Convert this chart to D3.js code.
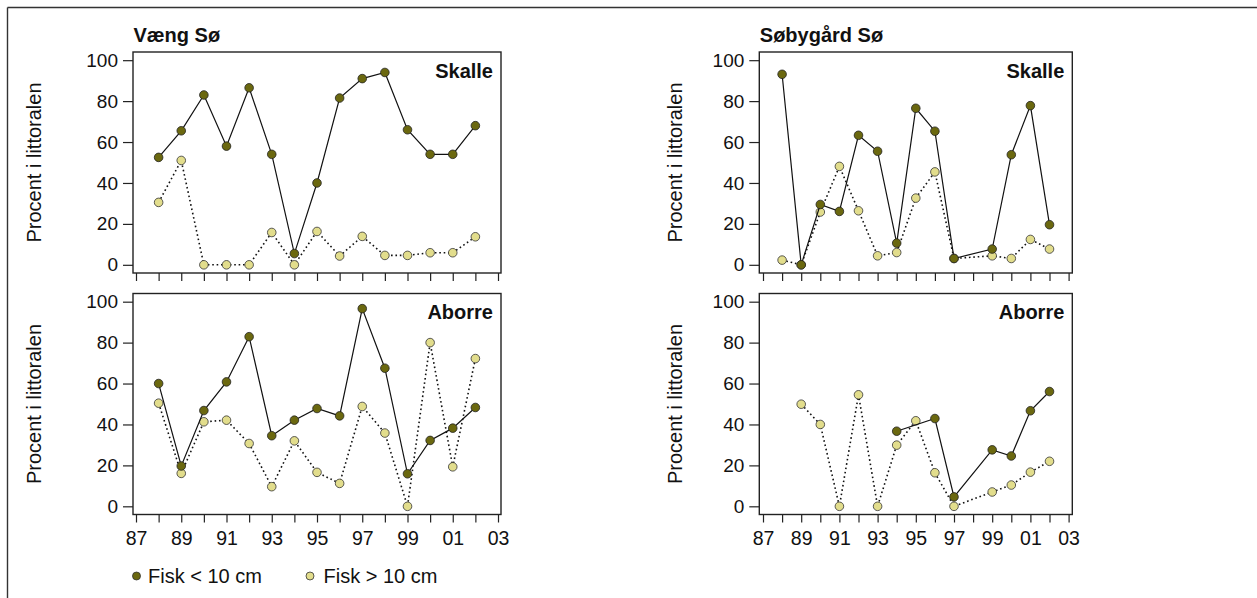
<!DOCTYPE html>
<html>
<head>
<meta charset="utf-8">
<script src="https://cdn.jsdelivr.net/npm/d3@7"></script>
<style>
  html, body { margin: 0; padding: 0; background: #fff; }
  svg { display: block; font-family: "Liberation Sans", Arial, sans-serif; }
</style>
</head>
<body>
<svg id="chart" width="1257" height="598"></svg>
<script>
// Survey years (sampling seasons 1988–2002)
const years = [1988, 1989, 1990, 1991, 1992, 1993, 1994, 1995, 1996, 1997, 1998, 1999, 2000, 2001, 2002];
const axisYears = d3.range(1987, 2004);
const labelYears = [1987, 1989, 1991, 1993, 1995, 1997, 1999, 2001, 2003];
const yTicks = [0, 20, 40, 60, 80, 100];

// Share of fish found in the littoral zone (%), small (< 10 cm) and large (> 10 cm)
const vaengSkalleSmall = [52.5, 65.5, 83, 58, 86.5, 54, 5.5, 40, 81.5, 91, 94, 66, 54, 54, 68];
const vaengSkalleLarge = [30.5, 51, 0, 0, 0, 15.8, 0, 16.3, 4.3, 13.9, 4.6, 4.6, 5.9, 5.9, 13.7];
const vaengAborreSmall = [60, 19.7, 46.8, 60.8, 82.9, 34.5, 42.1, 47.8, 44.2, 96.6, 67.5, 15.9, 32.2, 38.2, 48.3];
const vaengAborreLarge = [50.4, 16.1, 41.3, 42.1, 30.7, 9.6, 32, 16.6, 11.2, 48.8, 35.8, 0, 80, 19.3, 72.2];
const sobySkalleSmall = [93.1, 0, 29.5, 26.1, 63.3, 55.5, 10.6, 76.5, 65.3, 3.1, null, 7.7, 53.8, 77.8, 19.6];
const sobySkalleLarge = [2.3, 0, 25.8, 48.1, 26.4, 4.4, 6, 32.6, 45.4, 3.1, null, 4.4, 3.1, 12.4, 7.7];
const sobyAborreSmall = [null, null, null, null, null, null, 36.7, null, 42.9, 4.6, null, 27.6, 24.6, 46.7, 56.1];
const sobyAborreLarge = [null, 49.9, 40, 0, 54.5, 0, 29.9, 41.8, 16.4, 0, null, 7, 10.4, 16.7, 22];

const lakes = ["Væng Sø", "Søbygård Sø"];
const species = ["Skalle", "Aborre"];
const seriesNames = ["Fisk < 10 cm", "Fisk > 10 cm"];

const colSmall = "#6b680f";
const colLarge = "#e2dd8c";

const svg = d3.select("#chart");

// outer frame (top and left edges)
svg.append("line").attr("x1", 7.5).attr("y1", 7.5).attr("x2", 1257).attr("y2", 7.5)
  .attr("stroke", "#333").attr("stroke-width", 1.4);
svg.append("line").attr("x1", 7.5).attr("y1", 7.5).attr("x2", 7.5).attr("y2", 598)
  .attr("stroke", "#333").attr("stroke-width", 1.4);

const columns = [
  { lake: lakes[0], x0: 133, x1: 501, pad: 3, labelX: 41,
    data: [[vaengSkalleSmall, vaengSkalleLarge], [vaengAborreSmall, vaengAborreLarge]] },
  { lake: lakes[1], x0: 759.3, x1: 1072.3, pad: 3.7, labelX: 682,
    data: [[sobySkalleSmall, sobySkalleLarge], [sobyAborreSmall, sobyAborreLarge]] }
];
const rows = [
  { y0: 52, y1: 273 },
  { y0: 293.5, y1: 514.5 }
];

const fmtYear = d => String(d % 100).padStart(2, "0");

columns.forEach((col) => {
  const x = d3.scaleLinear().domain([1987, 2003]).range([col.x0 + col.pad, col.x1 - col.pad]);

  // lake title
  svg.append("text").attr("x", col.x0 + 0.5).attr("y", 41.5)
    .attr("font-size", 20).attr("font-weight", "bold").attr("fill", "#111")
    .text(col.lake);

  rows.forEach((row, ri) => {
    const y = d3.scaleLinear().domain([-4, 104]).range([row.y1, row.y0]);
    const g = svg.append("g");

    // y axis
    const ya = g.append("g").attr("transform", `translate(${col.x0},0)`)
      .call(d3.axisLeft(y).tickValues(yTicks).tickSize(10).tickPadding(5));
    ya.select(".domain").remove();
    ya.selectAll("line").attr("stroke", "#222").attr("stroke-width", 1.2);
    ya.selectAll("text").attr("font-size", 19).attr("fill", "#111")
      .attr("font-family", "Liberation Sans, Arial, sans-serif");

    // x axis
    const xa = g.append("g").attr("transform", `translate(0,${row.y1})`)
      .call(d3.axisBottom(x).tickValues(axisYears).tickSize(8).tickPadding(8.5)
        .tickFormat(d => (ri === 1 && labelYears.includes(d)) ? fmtYear(d) : ""));
    xa.select(".domain").remove();
    xa.selectAll("line").attr("stroke", "#222").attr("stroke-width", 1.2);
    xa.selectAll("text").attr("font-size", 19.5).attr("fill", "#111")
      .attr("font-family", "Liberation Sans, Arial, sans-serif");

    // y axis title
    g.append("text")
      .attr("transform", `translate(${col.labelX},${(row.y0 + row.y1) / 2}) rotate(-90)`)
      .attr("text-anchor", "middle").attr("font-size", 20).attr("fill", "#111")
      .text("Procent i littoralen");

    // species label
    g.append("text").attr("x", col.x1 - 8).attr("y", row.y0 + 25.5)
      .attr("text-anchor", "end").attr("font-size", 20).attr("font-weight", "bold").attr("fill", "#111")
      .text(species[ri]);

    const [small, large] = col.data[ri];
    const line = d3.line().x(d => x(d.year)).y(d => y(d.v));
    const pts = arr => years.map((yr, i) => ({ year: yr, v: arr[i] })).filter(d => d.v !== null);

    // large fish: dotted line
    g.append("path").datum(pts(large)).attr("d", line)
      .attr("fill", "none").attr("stroke", "#111").attr("stroke-width", 1.6)
      .attr("stroke-dasharray", "1.6,2.8");
    g.selectAll(null).data(pts(large)).join("circle")
      .attr("cx", d => x(d.year)).attr("cy", d => y(d.v)).attr("r", 4.3)
      .attr("fill", colLarge).attr("stroke", "#333").attr("stroke-width", 0.8);

    // small fish: solid line
    g.append("path").datum(pts(small)).attr("d", line)
      .attr("fill", "none").attr("stroke", "#111").attr("stroke-width", 1.2);
    g.selectAll(null).data(pts(small)).join("circle")
      .attr("cx", d => x(d.year)).attr("cy", d => y(d.v)).attr("r", 4.3)
      .attr("fill", colSmall).attr("stroke", "#222").attr("stroke-width", 0.8);

    // plot frame
    g.append("rect").attr("x", col.x0).attr("y", row.y0)
      .attr("width", col.x1 - col.x0).attr("height", row.y1 - row.y0)
      .attr("fill", "none").attr("stroke", "#222").attr("stroke-width", 1.4);
  });
});

// legend
const legend = svg.append("g");
const legendItems = [
  { name: seriesNames[0], fill: colSmall, cx: 136.5, tx: 148 },
  { name: seriesNames[1], fill: colLarge, cx: 310, tx: 323.5 }
];
legendItems.forEach(it => {
  legend.append("circle").attr("cx", it.cx).attr("cy", 576).attr("r", 4)
    .attr("fill", it.fill).attr("stroke", "#333").attr("stroke-width", 0.8);
  legend.append("text").attr("x", it.tx).attr("y", 583.3)
    .attr("font-size", 20).attr("fill", "#111").text(it.name);
});
</script>
</body>
</html>
